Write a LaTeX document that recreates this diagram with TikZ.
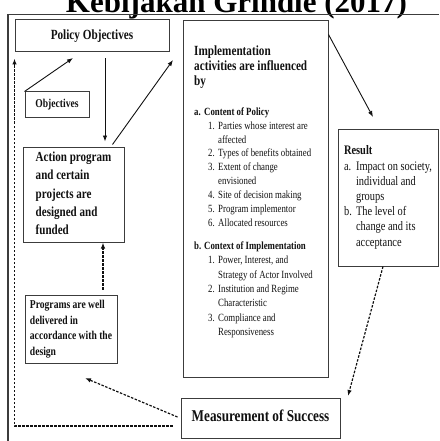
\documentclass[tikz,border=0pt]{standalone}
\usepackage{fontspec}
\setmainfont{Liberation Serif}
\usetikzlibrary{arrows.meta,positioning,calc}
\definecolor{ink}{HTML}{111111}
\definecolor{edge}{HTML}{3C3C3C}
\newcommand{\fsz}[2]{\fontsize{#1}{#2}\selectfont}
% condensed text block (the scan is narrow)
\newcommand{\sqz}[1]{\scalebox{0.8}[1]{\begin{tabular}{@{}l@{}}#1\end{tabular}}}
\newcommand{\lab}[1]{\makebox[12.5pt][l]{#1}}
\newcommand{\itm}[1]{\hspace*{17.5pt}\makebox[12.5pt][l]{#1}}
\newcommand{\cont}{\hspace*{30pt}}

\begin{document}
\begin{tikzpicture}[x=1pt,y=-1pt,
    >={Latex[length=6pt,width=4.5pt]},
    % --- boxes --------------------------------------------------------
    box/.style={draw=edge,line width=1pt,inner sep=0pt,text=ink},
    % --- text blocks --------------------------------------------------
    blk/.style={inner sep=0pt,anchor=north west,text=ink},
    % --- connectors ---------------------------------------------------
    flow/.style={draw=ink,line width=0.9pt,->},
    fb/.style={draw=ink,line width=1.2pt,dash pattern=on 2.5pt off 1.5pt,
               -{Latex[length=6pt,width=4.5pt,sep=0pt]}},
  ]
\useasboundingbox (0,0) rectangle (439,441);
\clip (0,0) rectangle (439,441);

% ---- title (cut at the top) and frame --------------------------------
\node[font=\bfseries\fsz{31}{31},anchor=base,inner sep=0pt] (title)
     at (236.5,12.5) {Kebijakan Grindle (2017)};
\draw[edge,line width=1.3pt] (8,441) -- (8,14.5) -- (439,14.5);

% =====================================================================
%  Left column
% =====================================================================
\node[box,minimum width=154,minimum height=32,font=\bfseries\fsz{14}{16}] (polobj)
     at (92,36) {\sqz{Policy Objectives}};
\node[box,minimum width=64,minimum height=25,font=\bfseries\fsz{12}{14}] (objbox)
     at (57,104.5) {\sqz{Objectives}};
\node[box,minimum width=101,minimum height=95,font=\bfseries\fsz{13.8}{18.3}] (actbox)
     at (73.5,194.5) {\sqz{Action program\\and certain\\projects are\\designed and\\funded}};
\node[box,minimum width=92,minimum height=68,font=\bfseries\fsz{12}{15.7}] (prgbox)
     at (71,329) {\sqz{Programs are well\\delivered in\\accordance with the\\design}};

% =====================================================================
%  Implementation box
% =====================================================================
\node[box,minimum width=145,minimum height=356] (impbox) at (255.5,199) {};
\node[blk,font=\bfseries\fsz{14}{15}] (imphd) at (194,44.5)
     {\sqz{Implementation\\activities are influenced\\by}};
\node[blk,font=\fsz{11}{13.9}] (seca) at (194,105.3)
     {\sqz{\textbf{\lab{a.}Content of Policy}\\
      \itm{1.}Parties whose interest are\\
      \cont affected\\
      \itm{2.}Types of benefits obtained\\
      \itm{3.}Extent of change\\
      \cont envisioned\\
      \itm{4.}Site of decision making\\
      \itm{5.}Program implementor\\
      \itm{6.}Allocated resources}};
\node[blk,font=\fsz{11}{14.4}] (secb) at (194,239)
     {\sqz{\textbf{\lab{b.}Context of Implementation}\\
      \itm{1.}Power, Interest, and\\
      \cont Strategy of Actor Involved\\
      \itm{2.}Institution and Regime\\
      \cont Characteristic\\
      \itm{3.}Compliance and\\
      \cont Responsiveness}};

% =====================================================================
%  Result and measurement
% =====================================================================
\node[box,minimum width=100,minimum height=137,font=\fsz{13}{15.2}] (resbox) at (388,197.5)
     {\sqz{\textbf{Result}\\
      \makebox[15pt][l]{a.}Impact on society,\\
      \hspace*{15pt}individual and\\
      \hspace*{15pt}groups\\
      \makebox[15pt][l]{b.}The level of\\
      \hspace*{15pt}change and its\\
      \hspace*{15pt}acceptance}};
\node[box,minimum width=159,minimum height=40,font=\bfseries\fsz{16.5}{18}] (meas)
     at (260.5,418) {\sqz{Measurement of Success}};

% ---- free ends ------------------------------------------------------
\coordinate (downx) at (105,0);
\coordinate (upx) at (103,0);
\coordinate (objtip) at (73,58);
\coordinate (imptip) at (173,60);
\coordinate (restip) at (373,117);
\coordinate (mstip) at (348,396);
\coordinate (prgtip) at (85,378);

% =====================================================================
%  Solid connectors
% =====================================================================
\draw[flow] (objbox.north west) -- (objtip);
\draw[flow,shorten <=6pt,shorten >=5pt] (polobj.south -| downx) -- (actbox.north -| downx);
\draw[flow] ([xshift=-12pt,yshift=2pt]actbox.north east) -- (imptip);
\draw[flow] ([yshift=-14pt]impbox.north east) -- (restip);

% =====================================================================
%  Dashed feedback connectors
% =====================================================================
\draw[fb] ([xshift=-5pt]resbox.south) -- (mstip);
\draw[fb] ([xshift=-3pt,yshift=1pt]meas.west) -- (prgtip);
\draw[fb,shorten <=5pt] (prgbox.north -| upx) -- (actbox.south -| upx);
\draw[fb] ([xshift=-8pt,yshift=-8pt]meas.west) -| ([yshift=-6pt]polobj.south west);

\end{tikzpicture}
\end{document}
